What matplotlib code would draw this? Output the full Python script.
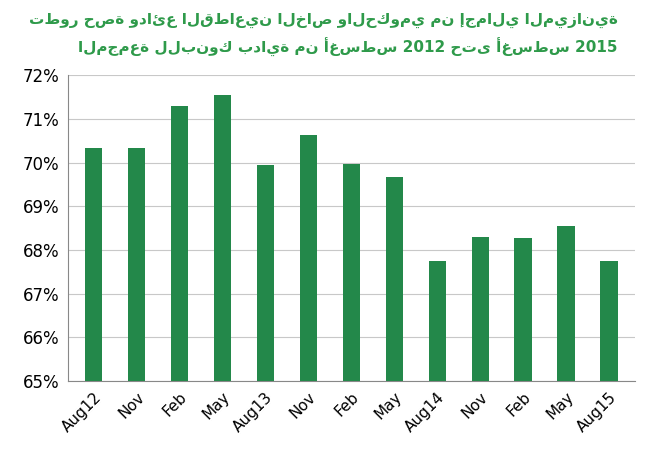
import matplotlib
matplotlib.use("Agg")
import matplotlib.pyplot as plt

labels = ["Aug12","Nov","Feb","May","Aug13","Nov","Feb","May","Aug14","Nov","Feb","May","Aug15"]
values = [70.33,70.33,71.29,71.54,69.94,70.63,69.97,69.67,67.75,68.30,68.27,68.55,67.75]
title1 = "تطور حصة ودائع القطاعين الخاص والحكومي من إجمالي الميزانية"
title2 = "المجمعة للبنوك بداية من أغسطس 2012 حتى أغسطس 2015"

fig = plt.figure(figsize=(6.47,4.5), dpi=100)
ax = fig.add_axes([0.105, 0.153, 0.876, 0.68])
x = range(len(labels))
ax.bar(x, [v-65 for v in values], bottom=65, width=0.4, color="#23884a", zorder=3)
ax.set_ylim(65,72)
ax.set_xlim(-0.6, len(labels)-0.4)
ax.set_yticks(range(65,73))
ax.set_yticklabels([f"{t}%" for t in range(65,73)], fontsize=12)
ax.set_xticks(list(x))
ax.set_xticklabels(labels, rotation=45, ha="right", rotation_mode="anchor", fontsize=11)
ax.grid(axis="y", color="#c8c8c8", lw=0.8, zorder=0)
for s in ["top","right"]:
    ax.spines[s].set_visible(False)
ax.spines["left"].set_color("#888888")
ax.spines["bottom"].set_color("#888888")
ax.tick_params(length=0, pad=6)
fig.text(0.955, 0.955, title1, ha="right", va="center", fontsize=11, color="#2e9a4a", fontweight="bold")
fig.text(0.955, 0.895, title2, ha="right", va="center", fontsize=11, color="#2e9a4a", fontweight="bold")
fig.savefig("out.png", dpi=100)
